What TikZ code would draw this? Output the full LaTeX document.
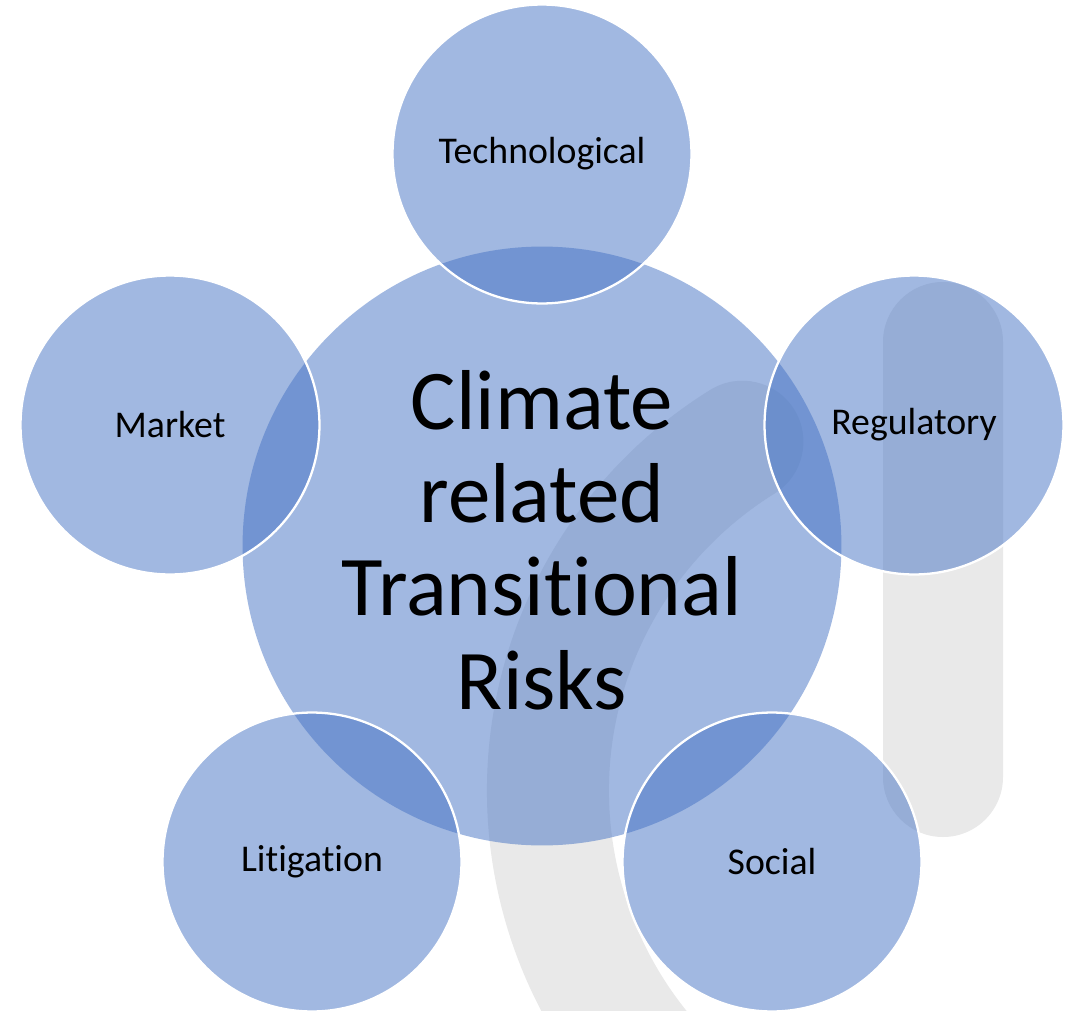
\documentclass[tikz,border=0pt]{standalone}
\usepackage{fontspec}
\setmainfont[Ligatures=NoCommon]{Carlito}
\definecolor{bubblue}{RGB}{68,114,196}
\definecolor{wmgrey}{RGB}{233,233,233}
\begin{document}
\begin{tikzpicture}[x=0.02cm,y=-0.02cm,
  bub/.style={circle, inner sep=0pt, fill=bubblue, fill opacity=0.5, text opacity=1, text=black},
  corebub/.style={bub, minimum size=11.98cm},
  outerbub/.style={bub, minimum size=5.98cm, draw=white, draw opacity=1, line width=1.3pt,
    font=\fontsize{21.5}{25}\selectfont},
  coretxt/.style={align=center, text=black, inner sep=0pt, font=\fontsize{48.4}{53.1}\selectfont},
  wmbar/.style={fill=wmgrey, rounded corners=1.2cm},
  wmband/.style={draw=wmgrey, line width=2.44cm, line cap=round}]
\fill[white] (0,0) rectangle (1079,1011);
\useasboundingbox (0,0) rectangle (1079,1011);
% watermark
\fill[wmbar] (883,282) rectangle (1003,837);
\coordinate (wmc) at (959,791);
\draw[wmband] (wmc) ++(120:411) arc[start angle=120, end angle=238.2, radius=411];
% bubbles
\node[corebub] (core) at (542,546) {};
\node[coretxt] (coretext) at (542,540) {Climate\\related\\Transitional\\Risks};
\node[outerbub] (tech) at (542,154) {Technological};
\node[outerbub] (reg) at (914,425) {Regulatory};
\node[outerbub] (soc) at (772,862) {Social};
\node[outerbub] (lit) at (312,862) {Litigation};
\node[outerbub] (mkt) at (170,425) {Market};
\end{tikzpicture}
\end{document}
